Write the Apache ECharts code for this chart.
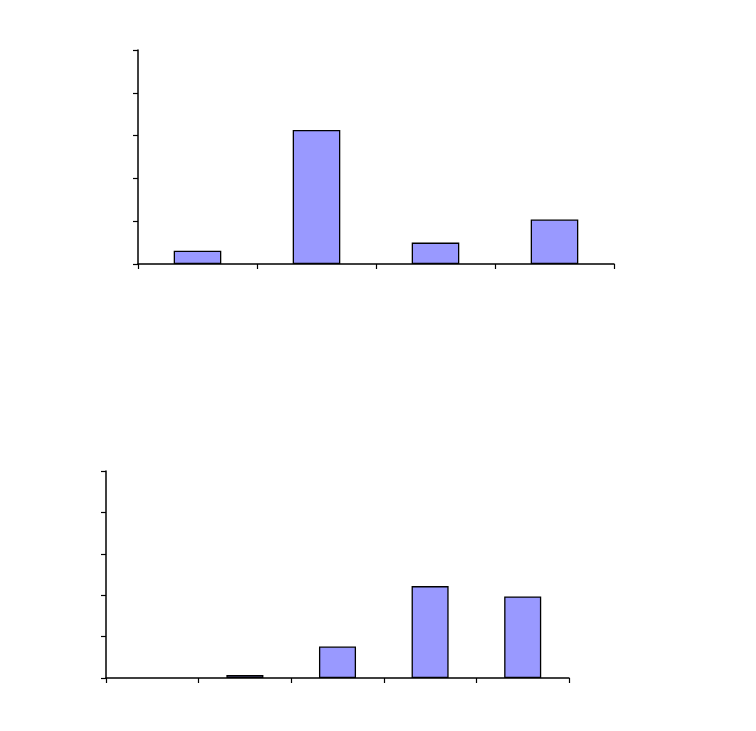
<!DOCTYPE html>
<html>
<head>
<meta charset="utf-8">
<script src="https://cdn.jsdelivr.net/npm/echarts@6/dist/echarts.min.js"></script>
<style>html,body{margin:0;padding:0;background:#fff;}#c{width:756px;height:731px;}</style>
</head>
<body>
<div id="c"></div>
<script>
var topCategories = ["1", "2", "3", "4"];
var topValues = [0.31, 3.13, 0.5, 1.04];
var bottomCategories = ["1", "2", "3", "4", "5"];
var bottomValues = [null, 0.07, 0.76, 2.22, 1.97];
var yMax = 5;
var yInterval = 1;

var chart = echarts.init(document.getElementById('c'), null, {renderer: 'canvas'});
function xAxis(idx, cats) {
  return {
    type: 'category', gridIndex: idx, data: cats,
    axisLine: {lineStyle: {color: '#000', width: 1.5}},
    axisTick: {show: true, length: 5, lineStyle: {color: '#000', width: 1.2}},
    axisLabel: {show: false}, splitLine: {show: false}
  };
}
function yAxis(idx) {
  return {
    type: 'value', gridIndex: idx, min: 0, max: yMax, interval: yInterval,
    axisLine: {show: true, lineStyle: {color: '#000', width: 1.5}},
    axisTick: {show: true, length: 5, lineStyle: {color: '#000', width: 1.2}},
    axisLabel: {show: false}, splitLine: {show: false}
  };
}
var barStyle = {color: '#9999FF', borderColor: '#000', borderWidth: 1.3};
chart.setOption({
  animation: false,
  grid: [
    {left: 138, top: 50, width: 476, height: 214},
    {left: 106, top: 471, width: 463, height: 207}
  ],
  xAxis: [xAxis(0, topCategories), xAxis(1, bottomCategories)],
  yAxis: [yAxis(0), yAxis(1)],
  series: [
    {type: 'bar', xAxisIndex: 0, yAxisIndex: 0, data: topValues, barWidth: '40%', itemStyle: barStyle},
    {type: 'bar', xAxisIndex: 1, yAxisIndex: 1, data: bottomValues, barWidth: '40%', itemStyle: barStyle}
  ]
});
</script>
</body>
</html>
